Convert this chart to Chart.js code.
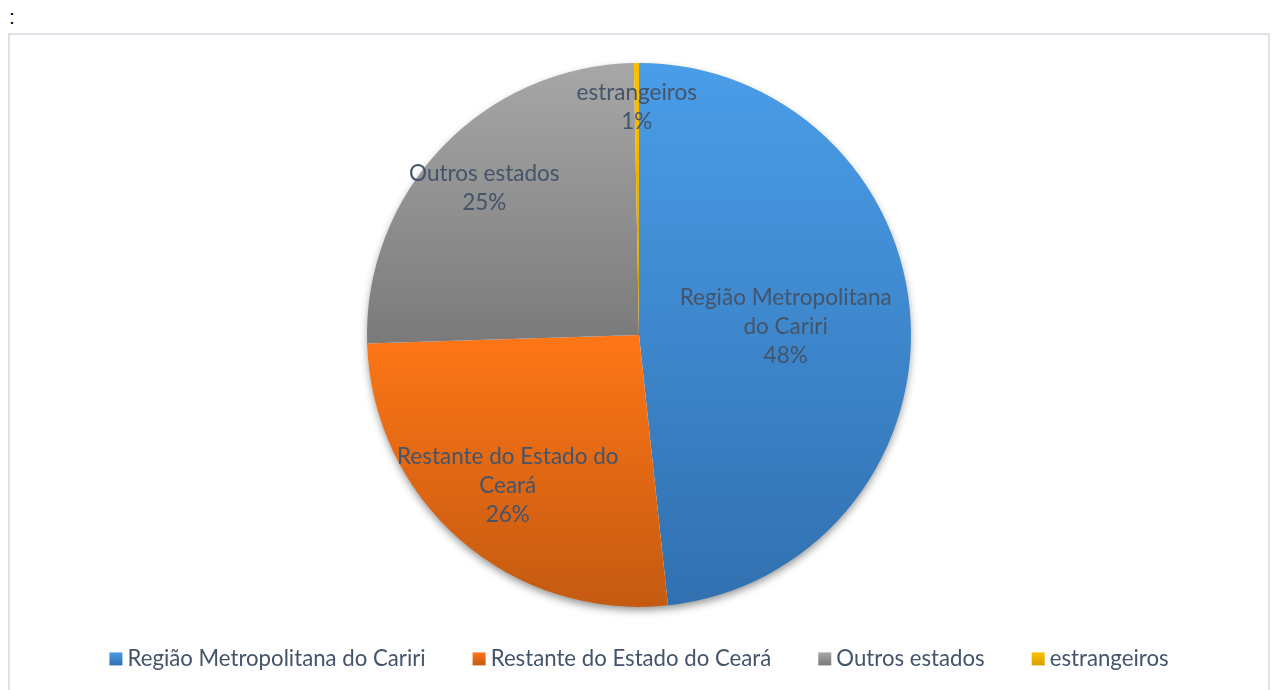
<!DOCTYPE html>
<html><head><meta charset="utf-8">
<script src="https://cdn.jsdelivr.net/npm/chart.js@4"></script>
<style>
html,body{margin:0;padding:0;background:#fff;width:1274px;height:690px;overflow:hidden;}
#colon{position:absolute;left:9px;top:5px;font:21px 'Liberation Sans',sans-serif;color:#000;}
#box{position:absolute;left:8px;top:33px;width:1258px;height:657px;border:2px solid #dde1e8;border-bottom:none;}
canvas{display:block}
</style></head><body>
<div id="colon">:</div>
<div id="box"><canvas id="c"></canvas></div>
<script>
const categories = ['Região Metropolitana do Cariri', 'Restante do Estado do Ceará', 'Outros estados', 'estrangeiros'];
const shares = [48.3, 26.2, 25.2, 0.3];
const percentLabels = ['48%', '26%', '25%', '1%'];
const sliceLabelLines = [['Região Metropolitana', 'do Cariri'], ['Restante do Estado do', 'Ceará'], ['Outros estados'], ['estrangeiros']];
const colorsTop = ['#4a9de8', '#fe7616', '#a7a7a7', '#ffc000'];
const colorsBottom = ['#3170b0', '#c45a11', '#7a7a7a', '#d4a000'];
const colorsMid = ['#3e87cc', '#e56813', '#909090', '#ebb000'];

const RADIUS = 272;

function sliceGradient(ctx) {
  const chart = ctx.chart;
  const i = ctx.dataIndex;
  const area = chart.chartArea;
  if (!area || i === undefined) return colorsMid[i || 0];
  const cx = (area.left + area.right) / 2, cy = (area.top + area.bottom) / 2;
  const total = shares.reduce((a, b) => a + b, 0);
  let cum = 0;
  for (let k = 0; k < i; k++) cum += shares[k];
  const a0 = -Math.PI / 2 + 2 * Math.PI * cum / total;
  const a1 = -Math.PI / 2 + 2 * Math.PI * (cum + shares[i]) / total;
  let ys = [cy, cy + RADIUS * Math.sin(a0), cy + RADIUS * Math.sin(a1)];
  const inRange = a => a >= a0 - 1e-9 && a <= a1 + 1e-9;
  if (inRange(Math.PI / 2)) ys.push(cy + RADIUS);
  if (inRange(-Math.PI / 2) || inRange(3 * Math.PI / 2)) ys.push(cy - RADIUS);
  const ymin = Math.min(...ys), ymax = Math.max(...ys);
  const g = chart.ctx.createLinearGradient(0, ymin, 0, ymax);
  g.addColorStop(0, colorsTop[i]);
  g.addColorStop(1, colorsBottom[i]);
  return g;
}

const shadowPlugin = {
  id: 'pieShadow',
  beforeDatasetsDraw(chart) {
    const meta = chart.getDatasetMeta(0);
    if (!meta.data.length) return;
    const arc = meta.data[0];
    const c = chart.ctx;
    c.save();
    c.shadowColor = 'rgba(0,0,0,0.45)';
    c.shadowBlur = 9;
    c.shadowOffsetY = 4;
    c.fillStyle = '#ffffff';
    c.beginPath();
    c.arc(arc.x, arc.y, arc.outerRadius - 1, 0, Math.PI * 2);
    c.fill();
    c.restore();
  }
};

const sliceLabelPlugin = {
  id: 'sliceLabels',
  afterDatasetsDraw(chart, args, opts) {
    const meta = chart.getDatasetMeta(0);
    const c = chart.ctx;
    c.save();
    c.font = opts.font;
    c.fillStyle = opts.color;
    c.textAlign = 'center';
    c.textBaseline = 'middle';
    meta.data.forEach((arc, i) => {
      const mid = (arc.startAngle + arc.endAngle) / 2;
      const r = arc.outerRadius * opts.radii[i];
      const x = arc.x + Math.cos(mid) * r;
      const y = arc.y + Math.sin(mid) * r;
      const lines = sliceLabelLines[i].concat([percentLabels[i]]);
      lines.forEach((t, k) => c.fillText(t, x, y + (k - (lines.length - 1) / 2) * opts.lineHeight));
    });
    c.restore();
  }
};

// draws the 13px legend squares (with gradient) at the start of each legend hitbox
const legendSquaresPlugin = {
  id: 'legendSquares',
  afterDraw(chart, args, opts) {
    const lg = chart.legend;
    if (!lg || !lg.legendHitBoxes) return;
    const c = chart.ctx;
    const s = opts.size;
    lg.legendHitBoxes.forEach((hb, i) => {
      const cy = hb.top + hb.height / 2;
      const y0 = cy - s / 2;
      const g = c.createLinearGradient(0, y0, 0, y0 + s);
      g.addColorStop(0, colorsTop[i]);
      g.addColorStop(1, colorsBottom[i]);
      c.fillStyle = g;
      c.fillRect(hb.left, y0, s, s);
    });
  }
};

function build() {
  const cv = document.getElementById('c');
  cv.width = 1258; cv.height = 655;
  cv.style.width = '1258px'; cv.style.height = '655px';
  new Chart(cv, {
    type: 'pie',
    data: {
      labels: categories,
      datasets: [{
        data: shares,
        backgroundColor: sliceGradient,
        borderWidth: 0,
        radius: RADIUS,
        clip: false
      }]
    },
    plugins: [shadowPlugin, sliceLabelPlugin, legendSquaresPlugin],
    options: {
      responsive: false,
      animation: false,
      events: [],
      layout: { padding: { top: 34, bottom: 10, left: 0, right: 0 } },
      plugins: {
        tooltip: { enabled: false },
        title: { display: false },
        sliceLabels: {
          font: '22.5px Lato',
          color: '#44546a',
          lineHeight: 29,
          radii: [0.54, 0.735, 0.785, 0.836]
        },
        legendSquares: { size: 13 },
        legend: {
          position: 'bottom',
          labels: {
            font: { family: 'Lato', size: 22.2 },
            color: '#44546a',
            boxWidth: 7,
            boxHeight: 13,
            padding: 47,
            generateLabels: () => categories.map((t, i) => ({
              text: t, fillStyle: 'rgba(0,0,0,0)', strokeStyle: 'rgba(0,0,0,0)', lineWidth: 0,
              hidden: false, index: i, fontColor: '#44546a'
            }))
          }
        }
      }
    }
  });
}
if (document.fonts && document.fonts.load) {
  Promise.all([document.fonts.load('22.2px Lato'), document.fonts.load('22.5px Lato')]).then(build, build);
} else build();
</script>
</body></html>
